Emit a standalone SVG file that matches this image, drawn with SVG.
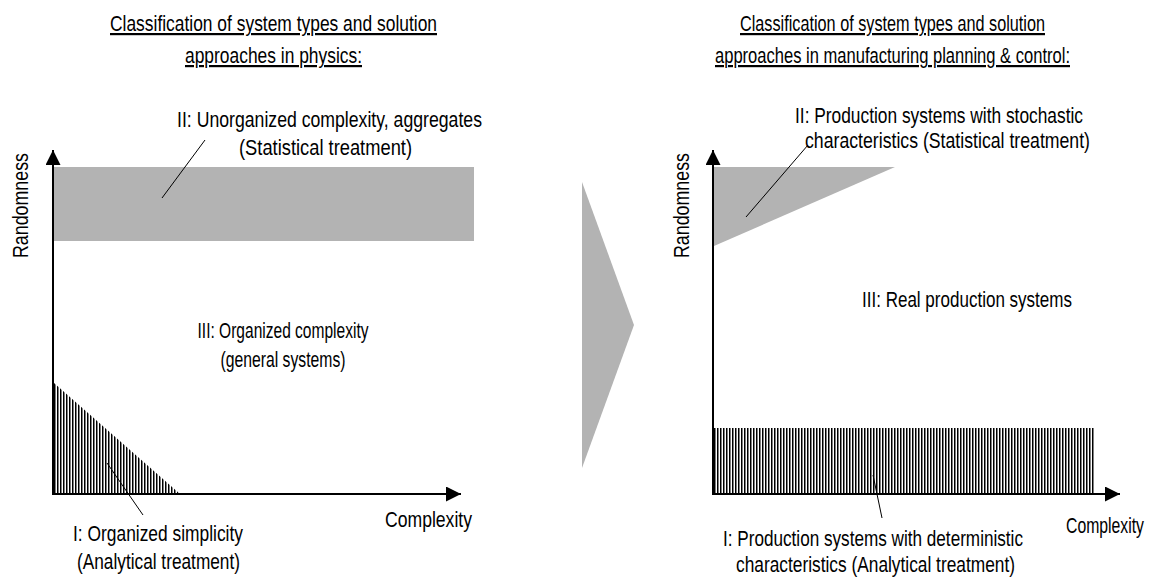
<svg xmlns="http://www.w3.org/2000/svg" width="1155" height="579" viewBox="0 0 1155 579">
  <style>
    .t { font-family: "Liberation Sans Narrow", "Liberation Sans", Arial, sans-serif; font-size: 22px; fill: #000; }
    .title { text-decoration: underline; }
    .axis { stroke: #000; stroke-width: 2; fill: none; }
    .leader { stroke: #000; stroke-width: 1; fill: none; }
    .gray { fill: #b3b3b3; }
    .hatch { fill: url(#vstripes); }
  </style>
  <defs>
    <pattern id="vstripes" patternUnits="userSpaceOnUse" x="0" y="0" width="3" height="10">
      <rect x="0" y="0" width="1.5" height="10" fill="#000"/>
    </pattern>
    <marker id="arrowhead" markerUnits="userSpaceOnUse" markerWidth="16" markerHeight="16" refX="15" refY="7.5" orient="auto">
      <path d="M0,0 L15,7.5 L0,15 Z" fill="#000"/>
    </marker>
  </defs>

  <rect width="1155" height="579" fill="#fff"/>

  <!-- Physics panel -->
  <g id="physics-title">
    <text class="t title" x="110" y="31" textLength="327" lengthAdjust="spacingAndGlyphs">Classification of system types and solution</text>
    <text class="t title" x="185" y="63" textLength="177" lengthAdjust="spacingAndGlyphs">approaches in physics:</text>
  </g>

  <g id="physics-region-II">
    <rect class="gray" x="54" y="167" width="420" height="74"/>
    <text class="t" x="177" y="127" textLength="305" lengthAdjust="spacingAndGlyphs">II: Unorganized complexity, aggregates</text>
    <text class="t" x="239" y="155" textLength="173" lengthAdjust="spacingAndGlyphs">(Statistical treatment)</text>
  </g>

  <g id="physics-region-I">
    <polygon class="hatch" points="54,383 54,494 180,494"/>
    <text class="t" x="73" y="541" textLength="170" lengthAdjust="spacingAndGlyphs">I: Organized simplicity</text>
    <text class="t" x="77" y="569" textLength="163" lengthAdjust="spacingAndGlyphs">(Analytical treatment)</text>
  </g>

  <g id="physics-region-III">
    <text class="t" x="283" y="338" text-anchor="middle" textLength="171" lengthAdjust="spacingAndGlyphs">III: Organized complexity</text>
    <text class="t" x="283" y="367" text-anchor="middle" textLength="125" lengthAdjust="spacingAndGlyphs">(general systems)</text>
  </g>

  <g id="physics-axes">
    <line class="axis" x1="53" y1="495" x2="53" y2="150" marker-end="url(#arrowhead)"/>
    <line class="axis" x1="52" y1="494" x2="461" y2="494" marker-end="url(#arrowhead)"/>
    <text class="t" transform="translate(28,205.5) rotate(-90)" text-anchor="middle" textLength="105" lengthAdjust="spacingAndGlyphs">Randomness</text>
    <text class="t" x="385" y="527" textLength="87" lengthAdjust="spacingAndGlyphs">Complexity</text>
  </g>

  <!-- Transition chevron -->
  <g id="transition-arrow">
    <polygon class="gray" points="582,182 634,325 582,468"/>
  </g>

  <!-- Manufacturing planning & control panel -->
  <g id="mpc-title">
    <text class="t title" x="740" y="31" textLength="305" lengthAdjust="spacingAndGlyphs">Classification of system types and solution</text>
    <text class="t title" x="715" y="63" textLength="355" lengthAdjust="spacingAndGlyphs">approaches in manufacturing planning &amp; control:</text>
  </g>

  <g id="mpc-region-II">
    <polygon class="gray" points="714,167 895,167 714,246"/>
    <text class="t" x="795" y="123" textLength="288" lengthAdjust="spacingAndGlyphs">II: Production systems with stochastic</text>
    <text class="t" x="805" y="148" textLength="285" lengthAdjust="spacingAndGlyphs">characteristics (Statistical treatment)</text>
  </g>

  <g id="mpc-region-III">
    <text class="t" x="967" y="307" text-anchor="middle" textLength="210" lengthAdjust="spacingAndGlyphs">III: Real production systems</text>
  </g>

  <g id="mpc-region-I">
    <rect class="hatch" x="714" y="428" width="381" height="66"/>
    <text class="t" x="723" y="546" textLength="300" lengthAdjust="spacingAndGlyphs">I: Production systems with deterministic</text>
    <text class="t" x="736" y="572" textLength="279" lengthAdjust="spacingAndGlyphs">characteristics (Analytical treatment)</text>
  </g>

  <g id="mpc-axes">
    <line class="axis" x1="713" y1="495" x2="713" y2="150" marker-end="url(#arrowhead)"/>
    <line class="axis" x1="712" y1="494" x2="1120" y2="494" marker-end="url(#arrowhead)"/>
    <text class="t" transform="translate(688.5,205.5) rotate(-90)" text-anchor="middle" textLength="105" lengthAdjust="spacingAndGlyphs">Randomness</text>
    <text class="t" x="1066" y="533" textLength="78" lengthAdjust="spacingAndGlyphs">Complexity</text>
  </g>

  <!-- Leader lines from labels to regions -->
  <g id="connectors">
    <line class="leader" x1="162" y1="198" x2="205" y2="140"/>
    <line class="leader" x1="107" y1="463" x2="143" y2="515"/>
    <line class="leader" x1="746" y1="217" x2="808" y2="145"/>
    <line class="leader" x1="873" y1="475" x2="882" y2="518"/>
  </g>
</svg>
